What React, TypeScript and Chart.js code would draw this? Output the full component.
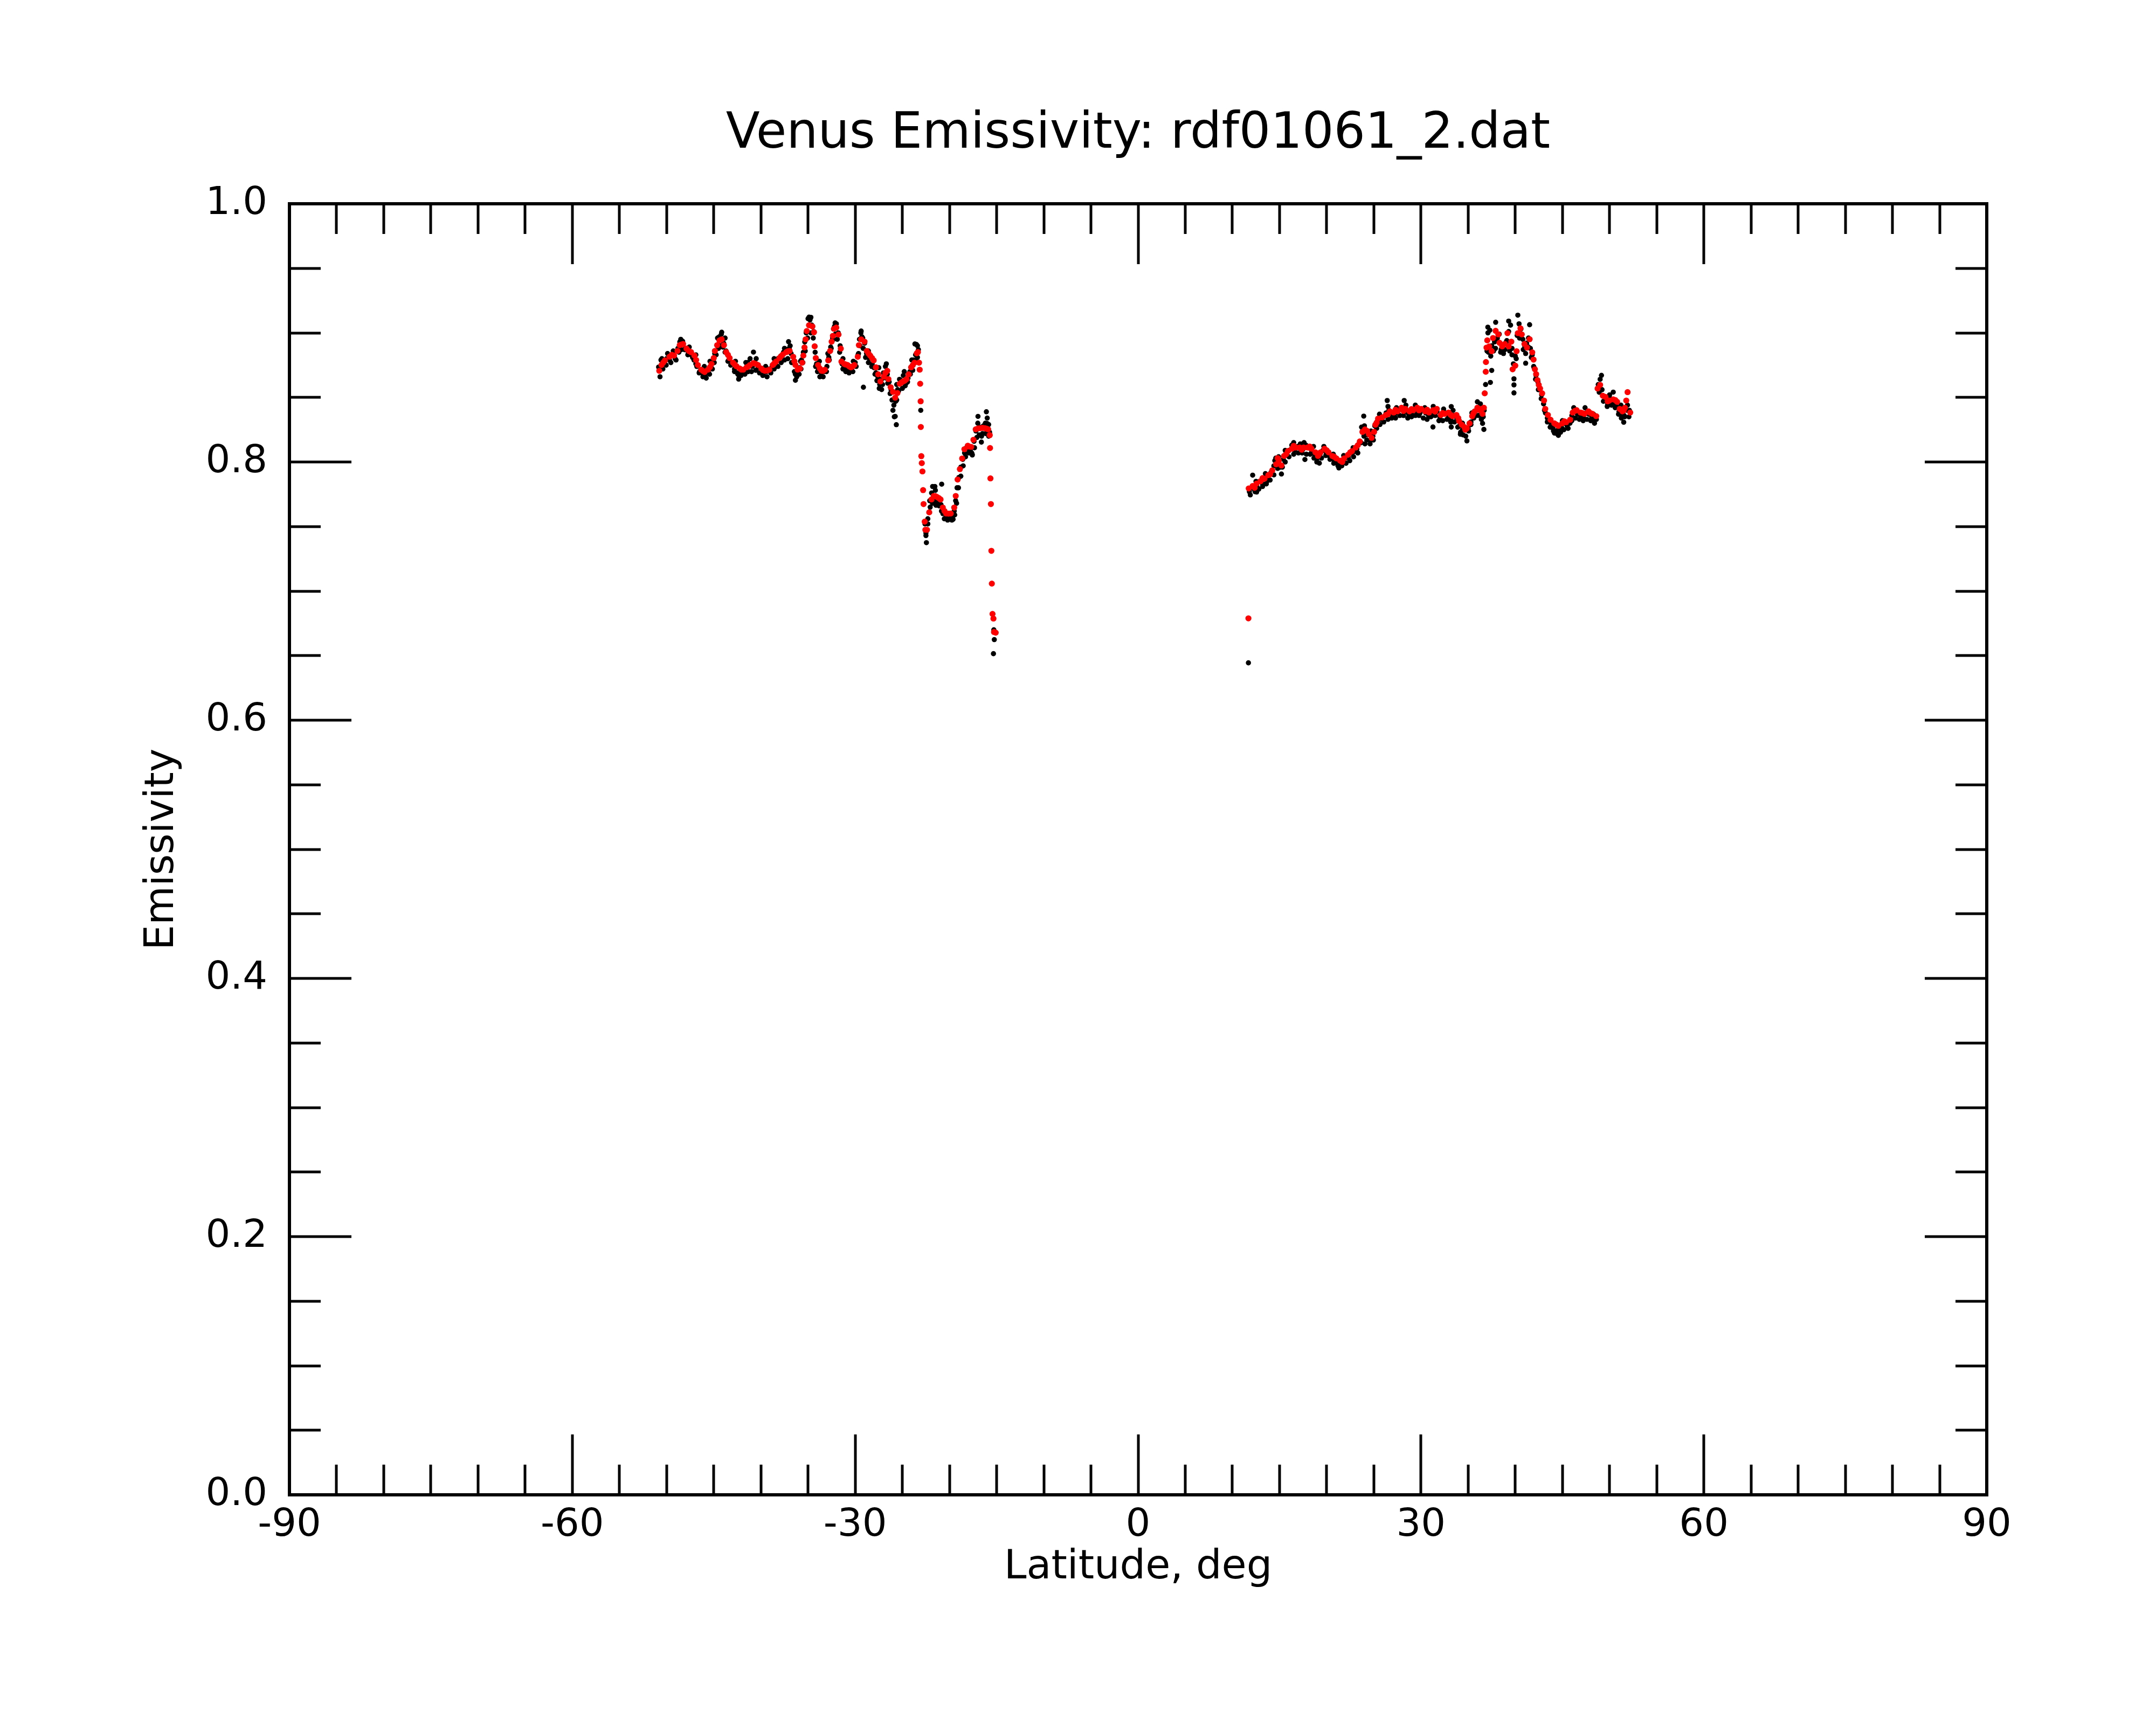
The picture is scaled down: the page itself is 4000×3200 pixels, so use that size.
import React, { useEffect, useRef } from "react";
import { Chart, registerables } from "chart.js";

Chart.register(...registerables);

// ---------------- data (latitude deg, emissivity) ----------------
const chartTitle = "Venus Emissivity: rdf01061_2.dat";
const xAxisTitle = "Latitude, deg";
const yAxisTitle = "Emissivity";

const redSouth: [number, number][] = [
  [-50.78, 0.8706], [-50.54, 0.8751], [-50.18, 0.8787], [-49.69, 0.8815], [-49.21, 0.8824],
  [-48.85, 0.886], [-48.61, 0.8905], [-48.25, 0.8914], [-47.89, 0.8878], [-47.41, 0.8851],
  [-47.05, 0.8824], [-46.69, 0.8751], [-46.33, 0.8715], [-45.97, 0.8697], [-45.61, 0.8715],
  [-45.24, 0.876], [-45.0, 0.8805], [-44.88, 0.886], [-44.64, 0.8905], [-44.4, 0.8941],
  [-44.16, 0.895], [-43.92, 0.8905], [-43.68, 0.8851], [-43.32, 0.8805], [-42.96, 0.8769],
  [-42.6, 0.8742], [-42.24, 0.8724], [-41.88, 0.8715], [-41.52, 0.8733], [-41.16, 0.8751],
  [-40.79, 0.8766], [-40.31, 0.8751], [-39.95, 0.8724], [-39.59, 0.8706], [-39.11, 0.8715],
  [-38.75, 0.8751], [-38.39, 0.8778], [-38.03, 0.8805], [-37.67, 0.8833], [-37.31, 0.8851],
  [-36.95, 0.886], [-36.58, 0.8815], [-36.34, 0.8751], [-36.1, 0.8715], [-35.86, 0.8724],
  [-35.62, 0.8769], [-35.5, 0.8824], [-35.38, 0.8887], [-35.26, 0.895], [-35.14, 0.9014],
  [-34.9, 0.9059], [-34.54, 0.905], [-34.37, 0.9005], [-34.3, 0.8896], [-34.18, 0.8805],
  [-33.94, 0.8751], [-33.58, 0.8706], [-33.22, 0.8715], [-32.86, 0.8787], [-32.66, 0.886],
  [-32.5, 0.8932], [-32.37, 0.8977], [-32.25, 0.9032], [-32.01, 0.9041], [-31.77, 0.8987],
  [-31.53, 0.8878], [-31.46, 0.8778], [-31.17, 0.876], [-30.81, 0.8751], [-30.45, 0.8733],
  [-30.09, 0.8751], [-29.73, 0.8815], [-29.61, 0.8905], [-29.37, 0.895], [-29.01, 0.8932],
  [-28.77, 0.886], [-28.41, 0.8824], [-28.04, 0.8787], [-27.8, 0.8733], [-27.56, 0.8679],
  [-27.32, 0.8624], [-26.96, 0.8661], [-26.6, 0.8706], [-26.48, 0.8642], [-26.24, 0.8579],
  [-26.0, 0.8543], [-25.76, 0.8498], [-25.52, 0.8534], [-25.28, 0.8606], [-24.92, 0.8624],
  [-24.56, 0.8642], [-24.32, 0.8679], [-24.07, 0.8733], [-23.71, 0.8769], [-23.47, 0.8842],
  [-23.35, 0.8851], [-23.23, 0.8769], [-23.16, 0.8715], [-23.11, 0.8606], [-23.06, 0.847],
  [-23.04, 0.8271], [-22.99, 0.8045], [-22.94, 0.7991], [-22.87, 0.7927], [-22.8, 0.7782],
  [-22.75, 0.7674], [-22.63, 0.7538], [-22.56, 0.7475], [-22.39, 0.7475], [-22.15, 0.761],
  [-21.91, 0.771], [-21.67, 0.7737], [-21.31, 0.7728], [-20.95, 0.771], [-20.71, 0.7647],
  [-20.35, 0.7601], [-19.87, 0.7601], [-19.5, 0.7647], [-19.34, 0.7737], [-19.14, 0.7864],
  [-18.9, 0.7945], [-18.66, 0.8027], [-18.42, 0.8099], [-18.06, 0.8126], [-17.7, 0.8117],
  [-17.46, 0.8172], [-17.22, 0.8253], [-16.74, 0.8262], [-16.26, 0.8262], [-15.9, 0.8253],
  [-15.73, 0.8208], [-15.7, 0.8108], [-15.66, 0.7873], [-15.61, 0.7674], [-15.56, 0.7312],
  [-15.51, 0.7058], [-15.44, 0.6823], [-15.34, 0.6787], [-15.28, 0.6683], [-15.1, 0.6678],
];

const redSouthExtra: [number, number][] = [
  [-50.36, 0.877], [-49.45, 0.883], [-48.43, 0.891], [-47.65, 0.886], [-46.87, 0.879],
  [-46.15, 0.8705], [-45.4, 0.8735], [-43.5, 0.883], [-42.78, 0.8755], [-42.06, 0.8715],
  [-41.34, 0.874], [-40.55, 0.876], [-39.77, 0.8712], [-39.35, 0.8708], [-38.57, 0.8765],
  [-37.85, 0.882], [-37.13, 0.8858], [-36.45, 0.878], [-33.76, 0.8725], [-33.4, 0.8705],
  [-31.0, 0.8755], [-30.63, 0.874], [-30.27, 0.874], [-28.59, 0.884], [-28.22, 0.8805],
  [-26.8, 0.869], [-25.1, 0.8615], [-24.74, 0.863], [-23.9, 0.875], [-21.49, 0.7735],
  [-21.13, 0.772], [-20.53, 0.762], [-20.11, 0.76], [-17.94, 0.812], [-16.98, 0.826],
  [-16.5, 0.8265], [-16.08, 0.8258],
];

const redNorth: [number, number][] = [
  [11.7, 0.6789],
  [11.73, 0.7795], [12.15, 0.7814], [12.57, 0.7833], [12.98, 0.7851], [13.4, 0.787],
  [13.81, 0.7898], [14.23, 0.7935], [14.64, 0.7982], [14.92, 0.801], [15.2, 0.7973],
  [15.48, 0.8047], [15.89, 0.8084], [16.31, 0.8103], [16.72, 0.8112], [17.14, 0.8112],
  [17.55, 0.8112], [17.97, 0.8112], [18.38, 0.8103], [18.8, 0.8075], [19.08, 0.8047],
  [19.35, 0.8075], [19.77, 0.8103], [20.19, 0.8075], [20.6, 0.8047], [21.02, 0.8028],
  [21.43, 0.801], [21.85, 0.8028], [22.26, 0.8056], [22.68, 0.8084], [23.09, 0.8112],
  [23.51, 0.8159], [23.79, 0.8233], [24.06, 0.8252], [24.48, 0.8215], [24.76, 0.8187],
  [25.03, 0.8233], [25.17, 0.8289], [25.45, 0.8336], [25.87, 0.8345], [26.28, 0.8364],
  [26.7, 0.8392], [27.11, 0.8383], [27.53, 0.8392], [27.94, 0.842], [28.36, 0.8411],
  [28.78, 0.8392], [29.19, 0.8401], [29.61, 0.842], [30.02, 0.8411], [30.44, 0.8392],
  [30.85, 0.8383], [31.27, 0.8401], [31.68, 0.8411], [32.1, 0.8364], [32.52, 0.8373],
  [32.93, 0.8383], [33.35, 0.8355], [33.76, 0.8364], [34.04, 0.8317], [34.32, 0.8289],
  [34.59, 0.8271], [34.87, 0.8261], [35.15, 0.8299], [35.43, 0.8355], [35.7, 0.8392],
  [35.98, 0.842], [36.26, 0.8401], [36.53, 0.8373], [36.67, 0.842], [36.76, 0.8532],
  [36.87, 0.8699], [36.89, 0.8774], [36.95, 0.8886], [37.03, 0.8942], [37.23, 0.8895],
  [37.5, 0.8858], [37.64, 0.896], [37.92, 0.9016], [38.2, 0.8988], [38.33, 0.8923],
  [38.61, 0.8895], [38.89, 0.8914], [39.17, 0.8998], [39.3, 0.8895], [39.58, 0.8932],
  [39.72, 0.8718], [40.0, 0.8746], [40.14, 0.8858], [40.27, 0.8998], [40.55, 0.9035],
  [40.69, 0.8988], [40.97, 0.8914], [41.24, 0.8886], [41.52, 0.8951], [41.8, 0.8849],
  [41.94, 0.8793], [42.08, 0.8718], [42.21, 0.8681], [42.35, 0.8634], [42.49, 0.8597],
  [42.63, 0.8569], [42.85, 0.8532], [43.05, 0.8476], [43.18, 0.8411], [43.46, 0.8364],
  [43.74, 0.8327], [44.15, 0.8299], [44.57, 0.828], [44.98, 0.8299], [45.4, 0.8308],
  [45.82, 0.8327], [46.09, 0.8383], [46.51, 0.8401], [46.92, 0.8383], [47.34, 0.8373],
  [47.76, 0.8392], [48.17, 0.8373], [48.59, 0.8355], [48.73, 0.8569], [49.0, 0.8597],
  [49.28, 0.8513], [49.56, 0.8504], [49.97, 0.8476], [50.39, 0.8485], [50.8, 0.8466],
  [51.08, 0.8411], [51.36, 0.8392], [51.63, 0.842], [51.77, 0.8476], [51.91, 0.8541],
  [52.19, 0.8383],
];

const redNorthExtra: [number, number][] = [
  [12.36, 0.78], [13.2, 0.7875], [14.0, 0.7905], [14.8, 0.803], [15.7, 0.806],
  [16.5, 0.8125], [17.35, 0.8095], [18.2, 0.812], [19.2, 0.806], [20.0, 0.809],
  [20.8, 0.804], [21.65, 0.8], [22.5, 0.8075], [23.3, 0.813], [24.3, 0.824],
  [25.3, 0.8305], [26.5, 0.837], [27.3, 0.8405], [28.15, 0.8395], [29.0, 0.841],
  [29.8, 0.84], [30.65, 0.8405], [31.5, 0.839], [32.3, 0.838], [33.15, 0.8365],
  [33.95, 0.834], [34.7, 0.825], [35.55, 0.8375], [36.4, 0.841], [44.35, 0.829],
  [45.2, 0.8315], [46.3, 0.8395], [47.1, 0.838], [47.95, 0.838], [49.8, 0.847],
  [50.6, 0.848], [51.5, 0.84],
];

const blackSouth: [number, number][] = [
  [-50.85, 0.8735], [-50.6, 0.879], [-50.3, 0.877], [-50.0, 0.88], [-49.7, 0.879],
  [-49.4, 0.883], [-49.1, 0.88], [-48.8, 0.888], [-48.6, 0.893], [-48.3, 0.8935],
  [-48.0, 0.888], [-47.7, 0.885], [-47.4, 0.883], [-47.1, 0.879], [-46.8, 0.874],
  [-46.5, 0.87], [-46.2, 0.869], [-45.9, 0.868], [-45.6, 0.87], [-45.3, 0.874],
  [-45.05, 0.879], [-44.9, 0.884], [-44.65, 0.89], [-44.4, 0.897], [-44.2, 0.899],
  [-43.95, 0.892], [-43.7, 0.886], [-43.4, 0.879], [-43.1, 0.876], [-42.8, 0.87],
  [-42.5, 0.869], [-42.3, 0.866], [-42.0, 0.87], [-41.7, 0.872], [-41.4, 0.877],
  [-41.15, 0.88], [-40.9, 0.874], [-40.6, 0.876], [-40.3, 0.873], [-40.0, 0.87],
  [-39.7, 0.869], [-39.4, 0.87], [-39.1, 0.872], [-38.8, 0.874], [-38.5, 0.877],
  [-38.2, 0.88], [-37.9, 0.882], [-37.6, 0.885], [-37.3, 0.887], [-37.0, 0.888],
  [-36.8, 0.884], [-36.55, 0.877], [-36.35, 0.868], [-36.1, 0.869], [-35.9, 0.873],
  [-35.7, 0.879], [-35.5, 0.885], [-35.35, 0.893], [-35.2, 0.9], [-35.0, 0.911],
  [-34.8, 0.91], [-34.6, 0.906], [-34.4, 0.901], [-34.25, 0.885], [-34.1, 0.876],
  [-33.9, 0.872], [-33.6, 0.869], [-33.3, 0.87], [-33.0, 0.874], [-32.8, 0.881],
  [-32.6, 0.889], [-32.4, 0.896], [-32.2, 0.905], [-32.0, 0.907], [-31.8, 0.9],
  [-31.6, 0.89], [-31.4, 0.876], [-31.2, 0.874], [-30.9, 0.873], [-30.6, 0.872],
  [-30.3, 0.874], [-30.0, 0.877], [-29.7, 0.883], [-29.55, 0.895], [-29.4, 0.9],
  [-29.2, 0.896], [-29.0, 0.892], [-28.8, 0.884], [-28.5, 0.88], [-28.2, 0.876],
  [-28.0, 0.873], [-27.8, 0.869], [-27.6, 0.866], [-27.4, 0.86], [-27.2, 0.864],
  [-27.0, 0.869], [-26.8, 0.874], [-26.6, 0.868], [-26.4, 0.862], [-26.2, 0.856],
  [-26.0, 0.84], [-25.85, 0.835], [-25.7, 0.847], [-25.5, 0.856], [-25.3, 0.864],
  [-25.1, 0.863], [-24.9, 0.867], [-24.6, 0.861], [-24.4, 0.865], [-24.2, 0.87],
  [-24.0, 0.874], [-23.8, 0.879], [-23.6, 0.883], [-23.4, 0.89], [-23.3, 0.887],
  [-23.05, 0.84], [-22.6, 0.752], [-22.5, 0.743], [-22.45, 0.7375], [-22.3, 0.756],
  [-22.1, 0.77], [-21.9, 0.776], [-21.7, 0.77], [-21.5, 0.778], [-21.3, 0.769],
  [-21.1, 0.772], [-20.9, 0.767], [-20.7, 0.76], [-20.5, 0.76], [-20.3, 0.758],
  [-20.1, 0.757], [-19.9, 0.759], [-19.7, 0.758], [-19.5, 0.762], [-19.35, 0.77],
  [-19.2, 0.78], [-19.0, 0.788], [-18.8, 0.796], [-18.6, 0.802], [-18.4, 0.807],
  [-18.2, 0.811], [-18.0, 0.81], [-17.8, 0.809], [-17.6, 0.806], [-17.4, 0.816],
  [-17.2, 0.824], [-17.0, 0.83], [-16.8, 0.827], [-16.6, 0.82], [-16.4, 0.828],
  [-16.2, 0.83], [-16.0, 0.834], [-15.85, 0.829], [-15.75, 0.823],
  [-29.13, 0.8579], [-25.64, 0.8289], [-25.76, 0.8353], [-27.2, 0.8561], [-36.34, 0.8633],
  [-42.36, 0.8642], [-40.79, 0.8851], [-44.16, 0.9005], [-34.9, 0.9122], [-32.13, 0.9077],
  [-29.37, 0.9014], [-23.67, 0.8914], [-37.07, 0.8932], [-21.79, 0.781], [-21.55, 0.781],
  [-20.83, 0.7828], [-21.43, 0.7665], [-20.11, 0.7556], [-19.62, 0.7556], [-17.58, 0.8054],
  [-16.98, 0.8353], [-16.62, 0.8154], [-16.09, 0.8389], [-16.02, 0.8298], [-15.34, 0.6515],
  [-15.25, 0.6624], [-15.3, 0.67],
];

const blackSouthLow: [number, number][] = [
  [-50.7, 0.866], [-50.4, 0.872], [-50.05, 0.875], [-49.55, 0.877], [-49.0, 0.879],
  [-48.7, 0.885], [-48.45, 0.887], [-48.1, 0.887], [-47.75, 0.883], [-47.25, 0.881],
  [-46.9, 0.876], [-46.55, 0.869], [-46.15, 0.866], [-45.8, 0.865], [-45.45, 0.868],
  [-45.15, 0.872], [-44.95, 0.877], [-44.75, 0.883], [-44.5, 0.888], [-44.3, 0.89],
  [-44.05, 0.889], [-43.8, 0.885], [-43.5, 0.878], [-43.2, 0.875], [-42.8, 0.872],
  [-42.45, 0.868], [-42.1, 0.867], [-41.7, 0.868], [-41.35, 0.87], [-41.0, 0.87],
  [-40.55, 0.871], [-40.15, 0.869], [-39.8, 0.867], [-39.35, 0.866], [-38.95, 0.869],
  [-38.6, 0.872], [-38.2, 0.874], [-37.85, 0.877], [-37.5, 0.879], [-37.15, 0.88],
  [-36.75, 0.877], [-36.45, 0.87], [-36.2, 0.866], [-35.95, 0.868], [-35.75, 0.872],
  [-35.55, 0.877], [-35.3, 0.886], [-35.05, 0.896], [-34.7, 0.9], [-34.45, 0.896],
  [-34.2, 0.874], [-34.0, 0.87], [-33.75, 0.866], [-33.4, 0.866], [-33.05, 0.87],
  [-32.75, 0.879], [-32.55, 0.888], [-32.3, 0.895], [-32.1, 0.899], [-31.9, 0.895],
  [-31.65, 0.885], [-31.3, 0.872], [-31.0, 0.87], [-30.65, 0.869], [-30.25, 0.87],
  [-29.9, 0.874], [-29.65, 0.884], [-29.5, 0.89], [-29.15, 0.888], [-28.9, 0.881],
  [-28.6, 0.877], [-28.25, 0.874], [-27.9, 0.868], [-27.7, 0.863], [-27.45, 0.857],
  [-27.1, 0.86], [-26.75, 0.865], [-26.55, 0.861], [-26.3, 0.853], [-26.1, 0.848],
  [-25.9, 0.844], [-25.6, 0.848], [-25.4, 0.855], [-25.0, 0.857], [-24.7, 0.859],
  [-24.45, 0.862], [-24.15, 0.868], [-23.9, 0.871], [-23.55, 0.878], [-23.4, 0.881],
  [-22.5, 0.745], [-22.3, 0.752], [-22.05, 0.765], [-21.8, 0.768], [-21.45, 0.767],
  [-21.1, 0.766], [-20.85, 0.762], [-20.55, 0.756], [-20.2, 0.755], [-19.75, 0.755],
  [-19.45, 0.759], [-19.25, 0.768], [-19.05, 0.78], [-18.8, 0.789], [-18.55, 0.797],
  [-18.3, 0.804], [-17.95, 0.807], [-17.65, 0.807], [-17.35, 0.811], [-17.1, 0.819],
  [-16.85, 0.821], [-16.5, 0.822], [-16.15, 0.822], [-15.85, 0.82],
];

const blackSouthHigh: [number, number][] = [
  [-50.5, 0.88], [-49.9, 0.884], [-49.3, 0.886], [-48.5, 0.895], [-47.6, 0.889],
  [-46.9, 0.883], [-46.0, 0.874], [-45.4, 0.878], [-44.6, 0.896], [-43.8, 0.896],
  [-42.7, 0.878], [-41.6, 0.877], [-40.5, 0.88], [-39.5, 0.874], [-38.6, 0.88],
  [-37.5, 0.888], [-36.9, 0.89], [-35.8, 0.878], [-34.7, 0.912], [-33.8, 0.878],
  [-32.9, 0.884], [-32.3, 0.903], [-31.3, 0.88], [-30.2, 0.878], [-29.3, 0.897],
  [-28.6, 0.886], [-27.5, 0.873], [-26.7, 0.876], [-25.6, 0.86], [-24.8, 0.87],
  [-24.0, 0.879], [-23.5, 0.891],
];

const blackNorth: [number, number][] = [
  [11.7, 0.6444],
  [11.8, 0.777], [12.0, 0.78], [12.3, 0.779], [12.6, 0.781], [12.9, 0.785],
  [13.2, 0.783], [13.5, 0.788], [13.8, 0.787], [14.1, 0.792], [14.4, 0.797],
  [14.6, 0.803], [14.9, 0.804], [15.1, 0.796], [15.4, 0.802], [15.7, 0.807],
  [16.0, 0.809], [16.3, 0.813], [16.6, 0.809], [16.9, 0.812], [17.2, 0.814],
  [17.5, 0.81], [17.8, 0.813], [18.1, 0.811], [18.4, 0.809], [18.7, 0.806],
  [19.0, 0.803], [19.3, 0.806], [19.6, 0.809], [19.9, 0.808], [20.2, 0.805],
  [20.5, 0.803], [20.8, 0.801], [21.1, 0.799], [21.4, 0.799], [21.7, 0.801],
  [22.0, 0.803], [22.3, 0.804], [22.6, 0.807], [22.9, 0.808], [23.2, 0.81],
  [23.5, 0.815], [23.8, 0.824], [24.0, 0.828], [24.3, 0.821], [24.6, 0.817],
  [24.9, 0.82], [25.1, 0.828], [25.4, 0.832], [25.7, 0.833], [26.0, 0.835],
  [26.3, 0.838], [26.6, 0.84], [26.9, 0.837], [27.2, 0.835], [27.5, 0.838],
  [27.8, 0.841], [28.1, 0.84], [28.4, 0.839], [28.7, 0.837], [29.0, 0.838],
  [29.3, 0.84], [29.6, 0.839], [29.9, 0.838], [30.2, 0.841], [30.5, 0.838],
  [30.8, 0.836], [31.1, 0.837], [31.4, 0.84], [31.7, 0.839], [32.0, 0.835],
  [32.3, 0.837], [32.6, 0.838], [32.9, 0.836], [33.2, 0.834], [33.5, 0.836],
  [33.8, 0.834], [34.1, 0.828], [34.4, 0.825], [34.7, 0.825], [35.0, 0.826],
  [35.3, 0.831], [35.6, 0.837], [35.9, 0.84], [36.2, 0.841], [36.5, 0.836],
  [36.7, 0.84], [36.85, 0.86], [37.0, 0.886], [37.1, 0.9], [37.3, 0.902],
  [37.5, 0.89], [37.7, 0.886], [37.9, 0.888], [38.1, 0.896], [38.3, 0.899],
  [38.5, 0.887], [38.7, 0.886], [38.9, 0.887], [39.1, 0.894], [39.3, 0.901],
  [39.5, 0.906], [39.65, 0.888], [39.8, 0.876], [40.0, 0.882], [40.2, 0.898],
  [40.4, 0.907], [40.6, 0.903], [40.8, 0.895], [41.0, 0.89], [41.2, 0.892],
  [41.4, 0.896], [41.6, 0.888], [41.8, 0.883], [42.0, 0.873], [42.2, 0.867],
  [42.4, 0.862], [42.6, 0.857], [42.8, 0.852], [43.0, 0.845], [43.2, 0.838],
  [43.4, 0.834], [43.6, 0.831], [43.8, 0.828], [44.0, 0.826], [44.3, 0.824],
  [44.6, 0.826], [44.9, 0.827], [45.2, 0.83], [45.5, 0.828], [45.8, 0.83],
  [46.0, 0.836], [46.3, 0.839], [46.6, 0.837], [46.9, 0.836], [47.2, 0.835],
  [47.5, 0.838], [47.8, 0.837], [48.1, 0.834], [48.4, 0.832], [48.6, 0.833],
  [48.8, 0.86], [49.0, 0.864], [49.2, 0.856], [49.5, 0.848], [49.8, 0.845],
  [50.1, 0.849], [50.4, 0.846], [50.7, 0.843], [51.0, 0.839], [51.3, 0.836],
  [51.6, 0.835], [51.9, 0.844], [52.1, 0.84],
  [34.87, 0.8163], [36.67, 0.8252], [36.53, 0.8299], [39.86, 0.8535], [39.86, 0.8597],
  [39.86, 0.8644], [41.1, 0.8765], [37.5, 0.8709], [37.36, 0.8616], [41.52, 0.9063],
  [40.27, 0.9137], [39.3, 0.9091], [37.92, 0.9082], [37.09, 0.9044], [49.14, 0.8671],
  [50.39, 0.8541], [51.5, 0.8308], [44.57, 0.8206], [44.15, 0.8224], [26.42, 0.8476],
  [28.22, 0.8476], [15.2, 0.7907], [17.69, 0.8019], [31.27, 0.8271], [33.21, 0.8271],
  [33.21, 0.8429], [23.93, 0.8355], [24.06, 0.814], [12.15, 0.7898], [12.57, 0.7767],
  [13.67, 0.7851], [21.29, 0.7954], [19.22, 0.7991], [35.98, 0.8466], [34.18, 0.8215],
];

const blackNorthLow: [number, number][] = [
  [11.9, 0.7745], [12.4, 0.777], [12.8, 0.779], [13.2, 0.781], [13.6, 0.783],
  [14.0, 0.786], [14.4, 0.79], [14.8, 0.795], [15.3, 0.796], [15.6, 0.8],
  [16.0, 0.804], [16.5, 0.806], [17.0, 0.807], [17.4, 0.807], [17.85, 0.806],
  [18.25, 0.806], [18.65, 0.803], [18.95, 0.8], [19.45, 0.803], [19.9, 0.805],
  [20.35, 0.802], [20.75, 0.799], [21.2, 0.797], [21.6, 0.797], [22.05, 0.799],
  [22.45, 0.801], [22.85, 0.804], [23.3, 0.807], [23.65, 0.815], [23.95, 0.82],
  [24.25, 0.817], [24.6, 0.814], [24.95, 0.817], [25.3, 0.826], [25.65, 0.829],
  [26.05, 0.831], [26.5, 0.833], [26.9, 0.834], [27.3, 0.834], [27.75, 0.836],
  [28.15, 0.836], [28.6, 0.834], [29.0, 0.835], [29.4, 0.836], [29.8, 0.836],
  [30.25, 0.834], [30.65, 0.833], [31.05, 0.835], [31.5, 0.836], [31.9, 0.832],
  [32.3, 0.832], [32.75, 0.833], [33.15, 0.831], [33.55, 0.831], [33.9, 0.827],
  [34.2, 0.823], [34.45, 0.821], [34.75, 0.82], [35.05, 0.824], [35.3, 0.829],
  [35.6, 0.834], [35.85, 0.836], [36.1, 0.836], [36.4, 0.833], [36.6, 0.835],
  [37.15, 0.885], [37.4, 0.882], [37.8, 0.893], [38.05, 0.894], [38.45, 0.885],
  [38.75, 0.884], [39.05, 0.893], [39.4, 0.886], [39.65, 0.883], [40.1, 0.88],
  [40.45, 0.896], [40.85, 0.887], [41.1, 0.884], [41.4, 0.889], [41.7, 0.881],
  [41.95, 0.874], [42.15, 0.864], [42.45, 0.856], [42.75, 0.849], [43.1, 0.84],
  [43.4, 0.831], [43.7, 0.827], [44.05, 0.824], [44.4, 0.822], [44.8, 0.823],
  [45.15, 0.825], [45.6, 0.826], [46.0, 0.832], [46.4, 0.834], [46.8, 0.833],
  [47.2, 0.832], [47.6, 0.833], [48.0, 0.832], [48.4, 0.83], [48.9, 0.854],
  [49.35, 0.847], [49.75, 0.843], [50.2, 0.844], [50.6, 0.842], [50.95, 0.837],
  [51.25, 0.834], [51.55, 0.836], [51.85, 0.84], [52.05, 0.835],
];

const blackNorthHigh: [number, number][] = [
  [12.5, 0.785], [13.5, 0.791], [14.5, 0.801], [15.6, 0.809], [16.5, 0.815],
  [17.6, 0.815], [18.6, 0.812], [19.7, 0.812], [20.7, 0.806], [21.8, 0.805],
  [22.8, 0.811], [23.7, 0.827], [24.7, 0.824], [25.6, 0.837], [26.5, 0.843],
  [27.4, 0.842], [28.4, 0.844], [29.4, 0.844], [30.4, 0.842], [31.3, 0.843],
  [32.4, 0.841], [33.4, 0.84], [34.4, 0.83], [35.4, 0.838], [36.3, 0.845],
  [45.0, 0.832], [46.2, 0.842], [47.4, 0.842], [48.3, 0.837], [50.0, 0.852],
  [51.2, 0.844],
];

const xTickStep = 30;
const xMinorStep = 5;
const yTickStep = 0.2;
const yMinorStep = 0.05;

// ---------------- layout constants ----------------
const W = 4000;
const H = 3200;
const PLOT_LEFT = 537;
const PLOT_RIGHT = 3686;
const PLOT_TOP = 378;
const PLOT_BOTTOM = 2773;
const FONT = "'DejaVu Sans', 'Liberation Sans', sans-serif";

const frameTicksPlugin = {
  id: "frameTicks",
  beforeDraw(chart: any) {
    const { ctx } = chart;
    ctx.save();
    ctx.fillStyle = "#ffffff";
    ctx.fillRect(0, 0, chart.width, chart.height);
    ctx.restore();
  },
  afterDatasetsDraw(chart: any) {
    const { ctx, chartArea: a, scales } = chart;
    const xs = scales.x;
    const ys = scales.y;
    ctx.save();
    ctx.strokeStyle = "#000";
    ctx.lineCap = "butt";
    ctx.lineWidth = 5;
    ctx.beginPath();
    const xMin = xs.min, xMax = xs.max;
    const nx = Math.round((xMax - xMin) / xMinorStep);
    for (let i = 1; i < nx; i++) {
      const v = xMin + i * xMinorStep;
      const px = Math.round(xs.getPixelForValue(v));
      const major = Math.abs((v - xMin) % xTickStep) < 1e-6;
      const len = major ? 112 : 56;
      ctx.moveTo(px, a.bottom);
      ctx.lineTo(px, a.bottom - len);
      ctx.moveTo(px, a.top);
      ctx.lineTo(px, a.top + len);
    }
    const ny = Math.round((ys.max - ys.min) / yMinorStep);
    const ratio = Math.round(yTickStep / yMinorStep);
    for (let i = 1; i < ny; i++) {
      const v = ys.min + i * yMinorStep;
      const py = Math.round(ys.getPixelForValue(v));
      const len = i % ratio === 0 ? 115 : 58;
      ctx.moveTo(a.left, py);
      ctx.lineTo(a.left + len, py);
      ctx.moveTo(a.right, py);
      ctx.lineTo(a.right - len, py);
    }
    ctx.stroke();
    ctx.lineWidth = 6;
    ctx.strokeRect(a.left, a.top, a.right - a.left, a.bottom - a.top);
    ctx.restore();
  },
};

function toPoints(...lists: [number, number][][]) {
  const out: { x: number; y: number }[] = [];
  for (const list of lists) for (const [x, y] of list) out.push({ x, y });
  return out;
}

export default function App() {
  const canvasRef = useRef<HTMLCanvasElement | null>(null);

  useEffect(() => {
    const canvas = canvasRef.current;
    if (!canvas) return;
    const hidden = { display: false };
    const chart = new Chart(canvas, {
      type: "scatter",
      data: {
        datasets: [
          {
            label: "smoothed",
            data: toPoints(redSouth, redSouthExtra, redNorth, redNorthExtra),
            pointRadius: 5.6,
            pointBorderWidth: 0,
            pointBackgroundColor: "#ff0000",
            pointBorderColor: "#ff0000",
            xAxisID: "x",
            yAxisID: "y",
          },
          {
            label: "raw",
            data: toPoints(blackSouth, blackSouthLow, blackSouthHigh, blackNorth, blackNorthLow, blackNorthHigh),
            pointRadius: 4.8,
            pointBorderWidth: 0,
            pointBackgroundColor: "#000000",
            pointBorderColor: "#000000",
            xAxisID: "x",
            yAxisID: "y",
          },
        ],
      },
      options: {
        responsive: false,
        maintainAspectRatio: false,
        devicePixelRatio: 1,
        animation: false,
        events: [],
        layout: { padding: 0 },
        plugins: {
          legend: hidden,
          title: hidden,
          tooltip: { enabled: false },
        },
        scales: {
          x: {
            type: "linear",
            position: "bottom",
            min: -90,
            max: 90,
            afterFit: (s: any) => {
              s.height = H - PLOT_BOTTOM;
            },
            grid: { display: false, drawTicks: false },
            border: { display: false },
            ticks: {
              stepSize: xTickStep,
              padding: 14,
              color: "#000",
              font: { family: FONT, size: 72 },
              maxRotation: 0,
              autoSkip: false,
              callback: (v: any) => String(Math.round(Number(v))),
            },
            title: {
              display: true,
              text: xAxisTitle,
              color: "#000",
              font: { family: FONT, size: 75 },
              padding: { top: 0, bottom: 246 },
            },
          },
          x2: {
            type: "linear",
            position: "top",
            min: -90,
            max: 90,
            afterFit: (s: any) => {
              s.height = PLOT_TOP;
            },
            grid: { display: false, drawTicks: false },
            border: { display: false },
            ticks: { display: false },
            title: {
              display: true,
              text: chartTitle,
              color: "#000",
              font: { family: FONT, size: 92 },
              padding: { top: 195, bottom: 0 },
            },
          },
          y: {
            type: "linear",
            position: "left",
            min: 0,
            max: 1,
            afterFit: (s: any) => {
              s.width = PLOT_LEFT;
            },
            grid: { display: false, drawTicks: false },
            border: { display: false },
            ticks: {
              stepSize: yTickStep,
              padding: 41,
              color: "#000",
              font: { family: FONT, size: 72 },
              autoSkip: false,
              callback: (v: any) => Number(v).toFixed(1),
            },
            title: {
              display: true,
              text: yAxisTitle,
              color: "#000",
              font: { family: FONT, size: 74 },
              padding: { top: 257, bottom: 0 },
            },
          },
          y2: {
            type: "linear",
            position: "right",
            min: 0,
            max: 1,
            afterFit: (s: any) => {
              s.width = W - PLOT_RIGHT;
            },
            grid: { display: false, drawTicks: false },
            border: { display: false },
            ticks: { display: false },
          },
        },
      } as any,
      plugins: [frameTicksPlugin],
    });
    return () => {
      chart.destroy();
    };
  }, []);

  return (
    <div
      style={{
        position: "absolute",
        left: 0,
        top: 0,
        width: W,
        height: H,
        background: "#ffffff",
      }}
    >
      <canvas
        ref={canvasRef}
        width={W}
        height={H}
        style={{ display: "block", width: W, height: H }}
      />
    </div>
  );
}
